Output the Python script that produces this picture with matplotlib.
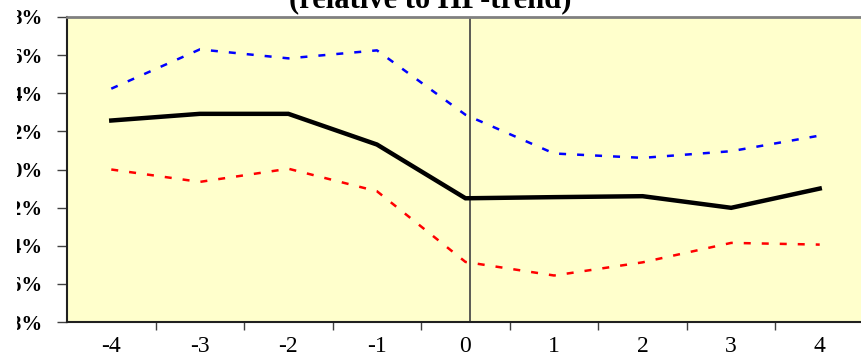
import matplotlib
matplotlib.use('Agg')
import matplotlib.pyplot as plt
from matplotlib.patches import Rectangle

# quarters relative to the event (0), deviation from HP-trend in %
quarters = [-4, -3, -2, -1, 0, 1, 2, 3, 4]
mean_dev = [2.57, 2.92, 2.92, 1.31, -1.51, -1.45, -1.40, -2.01, -1.00]
upper_band = [4.24, 6.30, 5.83, 6.25, 2.87, 0.84, 0.61, 0.96, 1.78]
lower_band = [0.00, -0.65, 0.04, -1.14, -4.85, -5.56, -4.87, -3.85, -3.94]
ytick_vals = [-8, -6, -4, -2, 0, 2, 4, 6, 8]
title_text = '(relative to HP-trend)'

plt.rcParams['font.family'] = ['Liberation Serif', 'DejaVu Serif']

fig = plt.figure(figsize=(8.61, 3.58), dpi=100)
ax = fig.add_axes([67 / 861, 36 / 358, 797 / 861, 305 / 358])
ax.set_facecolor('#FFFFCC')

ax.plot(quarters, upper_band, color='#0000FF', lw=1.8, dashes=(2.8, 4.4), zorder=3)
ax.plot(quarters, lower_band, color='#FF0000', lw=1.8, dashes=(2.8, 4.4), zorder=3)
ax.plot(quarters, mean_dev, color='black', lw=3.2, zorder=4, solid_joinstyle='miter')
ax.axvline(0.05, color='#404040', lw=1.2, zorder=2)

ax.set_xlim(-4.5, 4.5)
ax.set_ylim(-8, 8)

# category axis: ticks between categories, labels in the middle
ax.set_xticks([q + 0.5 for q in quarters])
ax.set_xticklabels([])
ax.set_xticks(quarters, minor=True)
ax.set_xticklabels([str(q) for q in quarters], minor=True, fontsize=17)
ax.tick_params(axis='x', which='major', direction='out', length=6, width=1, color='#404040')
ax.tick_params(axis='x', which='minor', length=0, pad=10)

ax.set_yticks(ytick_vals)
ax.set_yticklabels([f'{v}%' for v in ytick_vals], fontsize=15, fontweight='bold')
ax.tick_params(axis='y', direction='out', length=7, width=1, color='#404040', pad=10.5)

for side in ['left', 'bottom']:
    ax.spines[side].set_color('#202020')
    ax.spines[side].set_linewidth(1.5)
ax.spines['top'].set_color('#808080')
ax.spines['top'].set_linewidth(2)
ax.spines['right'].set_visible(False)

fig.text(0.5, 1 - 7 / 358, title_text, ha='center', va='baseline', fontsize=22, fontweight='bold')

# the reference is cut off at the left edge
fig.add_artist(Rectangle((0, 0), 17 / 861, 1, transform=fig.transFigure,
                         facecolor='white', edgecolor='none', zorder=10))

fig.savefig('out.png', dpi=100)
